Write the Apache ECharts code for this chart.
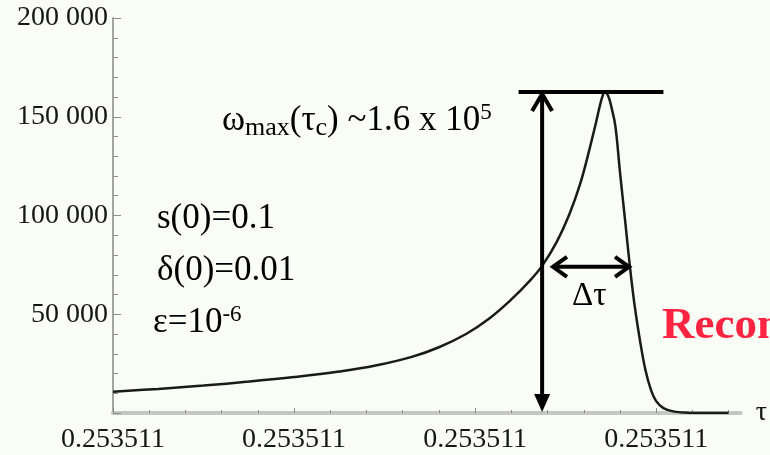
<!DOCTYPE html>
<html>
<head>
<meta charset="utf-8">
<script src="https://cdn.jsdelivr.net/npm/echarts@6/dist/echarts.min.js"></script>
<style>
  html, body { margin: 0; padding: 0; background: #f9fdf5; }
  #chart { width: 770px; height: 455px; }
</style>
</head>
<body>
<div id="chart"></div>
<script>
// τ measured in units of one labelled tick step from the left end of the axis
const tauOffset = [0, 0.25, 0.50, 0.75, 1.00, 1.25, 1.45, 1.65, 1.80, 1.95, 2.08, 2.20, 2.30,
  2.37, 2.45, 2.52, 2.58, 2.63, 2.67, 2.69, 2.705, 2.715, 2.735, 2.755, 2.775, 2.80, 2.83,
  2.855, 2.88, 2.91, 2.94, 2.97, 3.00, 3.04, 3.10, 3.18, 3.40];
// ω(τ)
const omega = [10800, 12200, 13900, 15900, 18200, 21000, 24000, 28400, 33300, 40000, 48000,
  57500, 66800, 74500, 86500, 100500, 116000, 133000, 148000, 156000, 160800, 162500, 160500,
  154000, 145000, 122000, 96000, 74000, 55000, 37000, 22000, 12000, 6000, 2500, 700, 100, 0];

const xTickValues = [0, 1, 2, 3];
const xTickLabels = ['0.253511', '0.253511', '0.253511', '0.253511'];
const xMinorTickValues = [0.2, 0.4, 0.6, 0.8, 1.2, 1.4, 1.6, 1.8, 2.2, 2.4, 2.6, 2.8, 3.2, 3.4];

// annotation anchors (data space)
const markerTau = 2.37;          // vertical arrow
const capTau = [2.24, 3.04];     // horizontal bar at the maximum
const widthTau = [2.43, 2.85];   // Δτ arrow
const widthLevel = 74000;

const SERIF = '"Liberation Serif", "Times New Roman", serif';
const TICK_INK = '#161616';

const chart = echarts.init(document.getElementById('chart'));

const baseX = {
  type: 'value', min: 0, max: 3.467,
  axisLine: { show: false }, splitLine: { show: false }
};

chart.setOption({
  backgroundColor: '#f9fdf5',
  animation: false,
  grid: { left: 113, right: 27, top: 18, bottom: 42 },
  xAxis: [
    Object.assign({}, baseX, {
      axisLine: { show: true, lineStyle: { color: '#c3c7c2', width: 4 } },
      axisTick: { show: true, inside: true, length: 5, customValues: xTickValues,
        lineStyle: { color: '#8a8d89', width: 1 } },
      axisLabel: { show: true, customValues: xTickValues, margin: 13,
        formatter: (v) => xTickLabels[xTickValues.indexOf(v)] || '',
        fontFamily: SERIF, fontSize: 28, color: TICK_INK },
      name: 'τ', nameLocation: 'end', nameGap: 15,
      nameTextStyle: { fontFamily: SERIF, fontSize: 28, color: TICK_INK, padding: [12, 0, 0, 0] }
    }),
    Object.assign({}, baseX, {
      position: 'bottom',
      axisTick: { show: true, inside: true, length: 3, customValues: xMinorTickValues,
        lineStyle: { color: '#8a8d89', width: 1 } },
      axisLabel: { show: false }
    })
  ],
  yAxis: {
    type: 'value', min: 0, max: 200000, interval: 50000,
    axisLine: { show: true, lineStyle: { color: '#a3a6a2', width: 2 } },
    axisTick: { show: true, inside: true, length: 8, lineStyle: { color: '#8a8d89', width: 1 } },
    minorTick: { show: true, splitNumber: 5, length: 5, lineStyle: { color: '#8a8d89', width: 1 } },
    splitLine: { show: false },
    axisLabel: {
      showMinLabel: false, margin: 5,
      fontFamily: SERIF, fontSize: 28, color: TICK_INK,
      formatter: (v) => v === 0 ? '' : String(v).replace(/(\d)(?=(\d{3})+$)/, '$1 ')
    }
  },
  series: [{
    type: 'line',
    xAxisIndex: 0,
    data: tauOffset.map((t, i) => [t, omega[i]]),
    showSymbol: false,
    smooth: 0.4,
    lineStyle: { color: '#1a1a1a', width: 2.5 },
    z: 3
  }]
});

function drawAnnotations() {
  const px = (t, w) => chart.convertToPixel({ gridIndex: 0 }, [t, w]);
  const peak = Math.max.apply(null, omega);
  const top = px(markerTau, peak);
  const bottom = px(markerTau, 0);
  const capL = px(capTau[0], peak);
  const capR = px(capTau[1], peak);
  const wl = px(widthTau[0], widthLevel);
  const wr = px(widthTau[1], widthLevel);
  const ink = { stroke: '#000', lineWidth: 4, fill: null };
  const vx = top[0];
  const tipTop = top[1] + 2;
  const tipBot = bottom[1] - 1;

  const main = { fontSize: 35, fontFamily: SERIF, lineHeight: 40, fill: '#000' };
  const sub = { fontSize: 26, fontFamily: SERIF, lineHeight: 38, verticalAlign: 'bottom', fill: '#000' };
  const sup = { fontSize: 23, fontFamily: SERIF, lineHeight: 32, verticalAlign: 'top', fill: '#000' };

  const text = (x, y, str, extra) => ({
    type: 'text', z: 20,
    style: Object.assign({ x: x, y: y, text: str, fill: '#000',
      font: '35px ' + SERIF, align: 'left', verticalAlign: 'middle',
      textAlign: 'left', textVerticalAlign: 'middle' }, extra || {})
  });

  chart.setOption({
    graphic: [
      // bar at the maximum
      { type: 'line', z: 10, shape: { x1: capL[0], y1: capL[1], x2: capR[0], y2: capR[1] },
        style: { stroke: '#000', lineWidth: 4 } },
      // vertical arrow from the axis up to the maximum
      { type: 'line', z: 10, shape: { x1: vx, y1: tipTop + 2, x2: vx, y2: tipBot - 12 },
        style: { stroke: '#000', lineWidth: 4 } },
      { type: 'polyline', z: 10, shape: { points: [[vx - 10, tipTop + 17], [vx, tipTop], [vx + 10, tipTop + 17]] },
        style: ink },
      { type: 'polygon', z: 10, shape: { points: [[vx - 8, tipBot - 18], [vx + 8, tipBot - 18], [vx, tipBot]] },
        style: { fill: '#000' } },
      // Δτ double arrow
      { type: 'line', z: 10, shape: { x1: wl[0] + 2, y1: wl[1], x2: wr[0] - 2, y2: wr[1] },
        style: { stroke: '#000', lineWidth: 4 } },
      { type: 'polyline', z: 10, shape: { points: [[wl[0] + 14, wl[1] - 10], [wl[0], wl[1]], [wl[0] + 14, wl[1] + 10]] },
        style: ink },
      { type: 'polyline', z: 10, shape: { points: [[wr[0] - 14, wr[1] - 10], [wr[0], wr[1]], [wr[0] - 14, wr[1] + 10]] },
        style: ink },
      // labels
      text(222, 121, '{m|ω}{s|max}{m|(τ}{s|c}{m|) ~1.6 x 10}{p|5}', { rich: { m: main, s: sub, p: sup } }),
      text(157, 219, 's(0)=0.1'),
      text(157, 271, 'δ(0)=0.01'),
      text(153, 323, '{m|ε=10}{p|-6}', { rich: { m: main, p: sup } }),
      text(572, 296, 'Δτ', { font: '33px ' + SERIF }),
      text(662, 326, 'Recon', { font: 'bold 45px ' + SERIF, fill: '#fe2442' })
    ]
  });
}

drawAnnotations();
</script>
</body>
</html>
